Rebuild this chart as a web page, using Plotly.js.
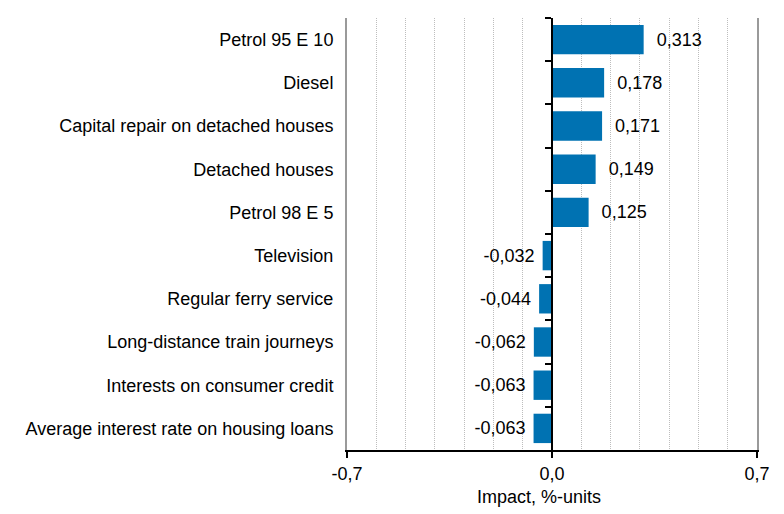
<!DOCTYPE html>
<html><head><meta charset="utf-8">
<script src="https://cdn.plot.ly/plotly-3.0.1.min.js"></script>
<style>body{margin:0;background:#fff}#c{width:784px;height:514px}</style>
</head><body><div id="c"></div>
<script>
var categories = ["Petrol 95 E 10","Diesel","Capital repair on detached houses","Detached houses","Petrol 98 E 5","Television","Regular ferry service","Long-distance train journeys","Interests on consumer credit","Average interest rate on housing loans"];
var values = [0.313,0.178,0.171,0.149,0.125,-0.032,-0.044,-0.062,-0.063,-0.063];
var xTicks = [-0.7, 0, 0.7];
var xTickLabels = ["-0,7","0,0","0,7"];
var xTitle = "Impact, %-units";

var templates = values.map(function(v){ return v >= 0 ? "\u00a0\u00a0%{x:.3f}" : "%{x:.3f}\u00a0"; });
var font = "Liberation Sans, Arial, sans-serif";
var fs = 18;

var data = [{
  type: "bar", orientation: "h", y: categories, x: values,
  marker: {color: "#0072b2"},
  texttemplate: templates, textposition: "outside",
  textfont: {family: font, size: fs, color: "#000"},
  cliponaxis: false, hoverinfo: "none"
},{
  type: "bar", orientation: "h", y: categories, x: values.map(function(){return 0;}),
  yaxis: "y2", hoverinfo: "none", showlegend: false, marker: {color: "rgba(0,0,0,0)"}
}];

var layout = {
  width: 784, height: 514,
  margin: {l: 347, r: 27, t: 18, b: 64},
  separators: ", ",
  showlegend: false,
  bargap: 0.32,
  paper_bgcolor: "#fff", plot_bgcolor: "#fff",
  font: {family: font, size: fs, color: "#000"},
  xaxis: {
    range: [-0.7, 0.7], tickvals: xTicks, ticktext: xTickLabels,
    ticks: "outside", ticklen: 6, tickcolor: "#000", tickwidth: 2,
    showline: true, linecolor: "#000", linewidth: 2,
    showgrid: false, zeroline: false,
    minor: {dtick: 0.1, tick0: 0, showgrid: true, gridcolor: "#bdbdbd", griddash: "1px,1px", gridwidth: 1, ticks: ""},
    tickfont: {family: font, size: fs}
  },
  yaxis: {
    type: "category", autorange: "reversed",
    showline: true, mirror: true, linecolor: "#9a9a9a", linewidth: 2,
    ticks: "", showgrid: false, zeroline: false,
    tickfont: {family: font, size: fs}, ticklabelstandoff: 8
  },
  yaxis2: {
    type: "category", autorange: "reversed", overlaying: "y", anchor: "free", position: 0.5,
    side: "left", showticklabels: false, ticks: "outside", tickson: "boundaries",
    ticklen: 6, tickwidth: 2, tickcolor: "#000",
    showline: true, linecolor: "#000", linewidth: 2, showgrid: false, zeroline: false
  },
  annotations: [{
    text: xTitle, xref: "paper", yref: "paper", x: 0.468, y: -0.109,
    xanchor: "center", yanchor: "middle", showarrow: false,
    font: {family: font, size: fs, color: "#000"}
  }]
};
Plotly.newPlot("c", data, layout, {staticPlot: true});
</script></body></html>
